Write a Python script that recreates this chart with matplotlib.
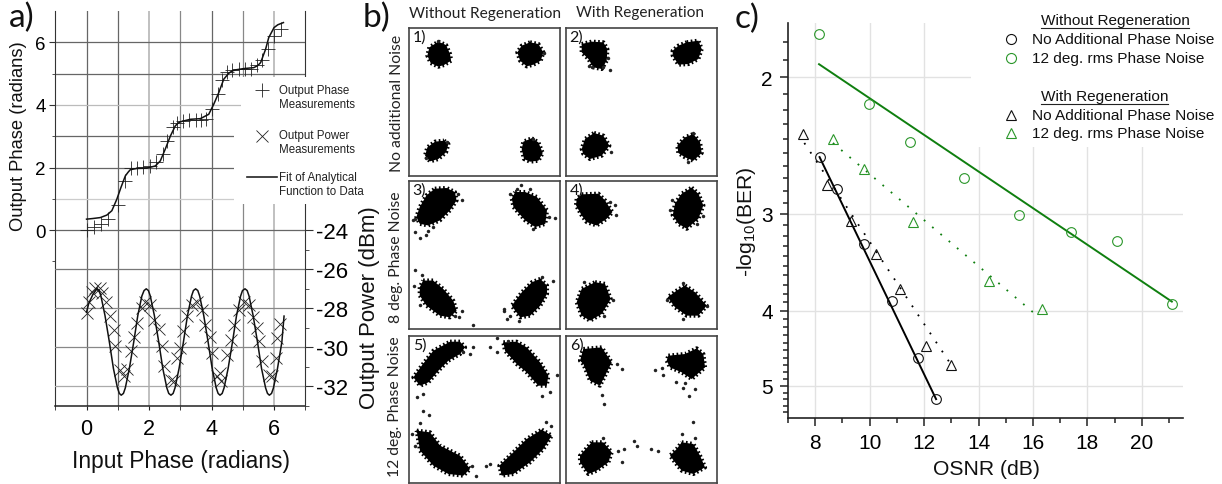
import matplotlib
matplotlib.use("Agg")
import matplotlib.pyplot as plt
from matplotlib.lines import Line2D
from matplotlib.patches import Polygon, Rectangle
from matplotlib.ticker import FixedLocator, NullFormatter
from matplotlib.transforms import Affine2D

W, H = 1222, 485
plt.rcParams['font.family'] = ['Liberation Sans', 'DejaVu Sans']
plt.rcParams['mathtext.default'] = 'regular'
CAL = ['Lato', 'DejaVu Sans']

# ---------- panel a data ----------
phase_in = [0, .23, .45, .68, 1.0, 1.22, 1.41, 1.6, 1.82, 2.03, 2.21, 2.45, 2.58, 2.76, 2.9, 3.09, 3.27, 3.49, 3.65,
            3.81, 4.02, 4.2, 4.34, 4.5, 4.66, 4.87, 5.06, 5.26, 5.47, 5.61, 5.8, 6.0, 6.22]
phase_out = [0, .11, .19, .37, .81, 1.58, 1.98, 2.0, 2.03, 2.06, 2.17, 2.43, 2.86, 3.28, 3.42, 3.49, 3.51, 3.52, 3.52,
             3.55, 3.86, 4.34, 4.78, 5.05, 5.12, 5.14, 5.16, 5.16, 5.29, 5.42, 5.8, 6.2, 6.42]
phase_fit_x = [0, .2, .44, .65, .81, .97, 1.10, 1.24, 1.33, 1.40, 1.61, 1.93, 2.20, 2.36, 2.52, 2.68, 2.84, 2.92, 3.0,
               3.32, 3.64, 3.91, 4.07, 4.23, 4.39, 4.55, 4.65, 4.77, 5.03, 5.35, 5.47, 5.57, 5.73, 5.83, 6.0, 6.12, 6.3]
phase_fit_y = [.35, .37, .40, .48, .62, .99, 1.36, 1.73, 1.85, 1.93, 1.97, 1.98, 2.05, 2.21, 2.59, 3.0, 3.33, 3.41, 3.46,
               3.54, 3.56, 3.7, 4.02, 4.39, 4.82, 5.01, 5.08, 5.12, 5.16, 5.19, 5.25, 5.35, 5.78, 6.15, 6.47, 6.56, 6.63]
power_in = [0, .07, .17, .28, .42, .49, .63, .76, .87, .92, 1.08, 1.19, 1.29, 1.42, 1.53, 1.61, 1.77, 1.88, 2.04, 2.17,
            2.31, 2.42, 2.49, 2.70, 2.81, 2.90, 3.0, 3.09, 3.22, 3.38, 3.54, 3.70, 3.80, 3.94, 4.02, 4.16, 4.26, 4.31,
            4.50, 4.61, 4.71, 4.87, 5.03, 5.19, 5.33, 5.46, 5.51, 5.62, 5.83, 5.94, 6.05, 6.10, 6.19]
power_out = [-28.26, -27.66, -27.15, -26.98, -26.98, -27.23, -27.66, -28.39, -29.11, -29.92, -31.15, -31.46, -31.11,
             -30.21, -29.48, -28.77, -28.0, -27.66, -27.83, -28.6, -29.07, -29.96, -30.94, -31.66, -31.74, -30.55,
             -30.04, -29.19, -28.39, -27.83, -27.66, -28.09, -28.85, -29.45, -30.3, -31.46, -31.32, -31.74, -30.38,
             -29.62, -28.85, -28.09, -27.66, -27.83, -28.46, -29.02, -29.7, -30.72, -31.4, -31.49, -30.55, -29.53, -28.82]
power_fit_x = [0, .07, .2, .33, .40, .46, .59, .73, .86, .99, 1.05, 1.11, 1.18, 1.24, 1.37, 1.51, 1.64, 1.77, 1.84, 1.91,
               1.98, 2.04, 2.17, 2.31, 2.44, 2.57, 2.63, 2.70, 2.77, 2.83, 2.96, 3.10, 3.23, 3.36, 3.42, 3.49,
               3.56, 3.62, 3.75, 3.89, 4.02, 4.15, 4.21, 4.27, 4.34, 4.40, 4.53, 4.67, 4.80, 4.93, 4.99, 5.07,
               5.14, 5.20, 5.33, 5.47, 5.60, 5.73, 5.79, 5.85, 5.92, 5.98, 6.11, 6.25, 6.32]
power_fit_y = [-28.2, -27.75, -27.3, -27.0, -27.09, -27.37, -28.37, -29.73, -31.09, -32.09, -32.37, -32.46,
               -32.37, -32.09, -31.09, -29.73, -28.37, -27.37, -27.09, -27.0,
               -27.09, -27.37, -28.37, -29.73, -31.09, -32.09, -32.37, -32.46,
               -32.37, -32.09, -31.09, -29.73, -28.37, -27.37, -27.09, -27.0,
               -27.09, -27.37, -28.37, -29.73, -31.09, -32.09, -32.37, -32.46,
               -32.37, -32.09, -31.09, -29.73, -28.37, -27.37, -27.09, -27.0,
               -27.09, -27.37, -28.37, -29.73, -31.09, -32.09, -32.37, -32.46,
               -32.37, -32.09, -31.09, -29.73, -28.4]

# ---------- panel b data: cluster outlines and stray symbols, in picture units ----------
p1_clusters = [[(205, 128), (228, 138), (240, 165), (243, 185), (222, 198), (205, 203), (182, 192), (172, 170), (178, 145)],
               [(480, 130), (505, 135), (520, 160), (512, 185), (490, 197), (470, 202), (450, 185), (442, 160), (455, 140)],
               [(222, 425), (235, 435), (228, 460), (205, 480), (180, 487), (165, 470), (172, 445), (195, 428)],
               [(485, 418), (505, 430), (518, 462), (505, 485), (480, 488), (462, 480), (455, 450), (460, 428)]]
p1_stray = [(205, 126), (522, 162), (490, 419), (232, 430), (168, 478)]
p2_clusters = [[(635, 135), (665, 128), (700, 130), (712, 150), (710, 185), (695, 210), (670, 205), (655, 180), (635, 160)],
               [(950, 130), (985, 125), (995, 150), (985, 180), (955, 195), (925, 197), (908, 170), (908, 155), (925, 140)],
               [(672, 402), (700, 410), (718, 440), (695, 470), (660, 480), (640, 465), (635, 450), (645, 420)],
               [(970, 405), (990, 430), (995, 462), (970, 485), (945, 475), (925, 462), (922, 440), (945, 415)]]
p2_stray = [(720, 212), (700, 205), (658, 200), (715, 178), (665, 205), (722, 458), (970, 402), (955, 490)]
p3_clusters = [[(105, 45), (140, 43), (165, 55), (170, 80), (150, 110), (120, 140), (85, 155), (60, 150), (50, 130), (60, 100), (80, 65)],
               [(345, 55), (375, 55), (410, 70), (440, 110), (435, 150), (405, 160), (375, 140), (340, 100), (335, 75)],
               [(70, 320), (100, 320), (130, 345), (160, 380), (170, 410), (150, 430), (120, 425), (80, 395), (60, 365), (60, 340)],
               [(420, 315), (440, 335), (440, 360), (420, 395), (390, 425), (360, 430), (345, 410), (335, 395), (365, 355), (395, 325)]]
p3_stray = [(47, 175), (61, 192), (78, 185), (45, 137), (185, 80), (175, 62), (40, 140), (85, 172), (100, 160),
            (362, 35), (388, 45), (330, 62), (463, 133), (397, 165), (350, 47), (445, 130),
            (47, 287), (68, 303), (43, 335), (62, 392), (186, 410), (178, 430), (220, 452), (165, 425),
            (458, 320), (425, 308), (312, 405), (312, 412), (320, 435), (357, 440), (330, 425)]
p4_clusters = [[(545, 62), (595, 60), (615, 80), (637, 115), (620, 135), (590, 155), (560, 145), (545, 125), (528, 95), (530, 75)],
               [(875, 42), (895, 60), (910, 95), (895, 135), (860, 165), (835, 150), (818, 125), (825, 90), (845, 60)],
               [(585, 325), (615, 330), (632, 375), (605, 420), (570, 440), (545, 425), (530, 385), (545, 345)],
               [(855, 335), (885, 355), (920, 395), (895, 425), (860, 425), (825, 400), (803, 370), (830, 350)]]
p4_stray = [(645, 95), (630, 85), (648, 125), (553, 325), (613, 425), (640, 377), (815, 80), (810, 110), (910, 128),
            (890, 150), (850, 328), (848, 435), (922, 395), (800, 378)]
p5_clusters = [[(240, 308), (270, 308), (285, 325), (270, 345), (235, 365), (205, 395), (175, 430), (150, 440), (130, 415), (155, 380), (190, 335)],
               [(400, 310), (440, 308), (470, 325), (510, 370), (535, 410), (530, 440), (505, 440), (470, 400), (440, 375), (405, 335)],
               [(140, 575), (180, 580), (210, 620), (270, 650), (300, 690), (280, 710), (235, 705), (190, 680), (150, 635)],
               [(515, 572), (545, 590), (520, 630), (480, 670), (430, 705), (395, 710), (388, 680), (430, 640), (470, 600)]]
p5_stray = [(310, 325), (300, 345), (280, 340), (382, 297), (360, 325), (380, 340), (415, 305), (140, 475), (160, 465),
            (515, 470), (540, 460), (560, 408), (158, 516), (178, 528), (125, 585), (150, 552), (528, 548), (542, 562),
            (348, 680), (360, 675), (318, 712), (135, 620), (305, 680)]
p6_clusters = [[(640, 330), (695, 325), (725, 370), (710, 400), (690, 440), (660, 425), (640, 375), (630, 365)],
               [(895, 350), (945, 345), (980, 328), (1000, 345), (1005, 385), (965, 420), (935, 400), (900, 385), (890, 365)],
               [(665, 610), (700, 610), (725, 640), (715, 670), (680, 695), (655, 705), (630, 670), (630, 650)],
               [(935, 610), (970, 615), (990, 650), (1005, 685), (970, 705), (935, 695), (915, 670), (900, 650), (920, 630)]]
p6_stray = [(755, 390), (740, 375), (695, 468), (703, 495), (855, 393), (875, 388), (880, 408), (918, 430), (945, 432),
            (975, 450), (957, 470), (938, 447), (970, 550), (793, 607), (800, 622), (843, 630), (865, 635), (762, 630),
            (755, 668), (745, 635), (937, 585), (700, 598), (975, 598)]
panel_names = ['1)', '2)', '3)', '4)', '5)', '6)']

# ---------- panel c data ----------
nr_wo_osnr = [8.16, 8.80, 9.80, 10.82, 11.78, 12.44]
nr_wo_ber = [2.534, 2.783, 3.284, 3.885, 4.60, 5.20]
pn_wo_osnr = [8.14, 9.96, 11.48, 13.45, 15.5, 17.4, 19.07, 21.1]
pn_wo_ber = [1.76, 2.164, 2.424, 2.697, 3.006, 3.164, 3.253, 3.926]
nr_w_osnr = [7.55, 8.44, 9.31, 10.23, 11.1, 12.07, 13.0]
nr_w_ber = [2.365, 2.756, 3.066, 3.381, 3.749, 4.438, 4.703]
pn_w_osnr = [8.65, 9.80, 11.61, 14.37, 16.33]
pn_w_ber = [2.40, 2.629, 3.072, 3.661, 3.982]
fit_nr_wo = ([8.16, 12.44], [2.534, 5.20])
fit_pn_wo = ([8.14, 21.1], [1.923, 3.892])
fit_nr_w = ([7.6, 13.0], [2.43, 4.70])
fit_pn_w = ([8.65, 16.12], [2.43, 4.05])

GREEN = '#0f7f0f'
GREEN_M = '#2a962a'

fig = plt.figure(figsize=(W / 100, H / 100), dpi=100, facecolor='white')
PX = Affine2D().scale(1, -1).translate(0, H)


def px_axes(left, top, right, bottom):
    return fig.add_axes([left / W, 1 - bottom / H, (right - left) / W, (bottom - top) / H])


def T(x, y, s, size, ha='left', va='center', **kw):
    return fig.text(x / W, 1 - y / H, s, fontsize=size, ha=ha, va=va, **kw)


# ---------- panel a ----------
ax = px_axes(55.3, 12, 305.3, 406.7)
ax.set_xlim(-1, 7)
ax.set_ylim(-5.61, 7)
ax.patch.set_alpha(0)
for s in ['top', 'right']:
    ax.spines[s].set_visible(False)
ax.spines['left'].set_color('#333')
ax.spines['bottom'].set_color('#222')
ax.spines['bottom'].set_linewidth(1.1)
ax.set_xticks([0, 2, 4, 6])
ax.set_xticks([-1, 1, 3, 5, 7], minor=True)
ax.set_yticks([0, 2, 4, 6])
ax.set_yticks([-1, 1, 3, 5], minor=True)
ax.yaxis.set_minor_formatter(NullFormatter())
ax.tick_params(axis='y', which='major', length=4, labelsize=13.5, pad=3, color='#333')
ax.tick_params(axis='y', which='minor', length=2, color='#333')
ax.tick_params(axis='x', which='both', length=3, labelsize=15.5, pad=6, color='#222')
for x, c, lw in zip([0, 1, 2, 3, 4, 5, 6],
                    ['#666', '#666', '#bbb', '#888', '#666', '#888', '#bbb'],
                    [.9, .9, 1.3, .9, .9, .9, 1.3]):
    ax.axvline(x, color=c, lw=lw, zorder=1)
for y, c in zip([6, 5, 4, 3, 2, 1, 0], ['#666', '#666', '#bbb', '#666', '#666', '#ccc', '#666']):
    ax.axhline(y, color=c, lw=.9, zorder=1)
ax.plot(phase_in, phase_out, ls='none', marker='+', ms=9.5, mew=.6, color='#222', zorder=3)
ax.plot(phase_fit_x, phase_fit_y, color='#111', lw=1.1, zorder=4)

ax2 = ax.twinx()
ax2.set_zorder(ax.get_zorder() + 1)
ax2.patch.set_alpha(0)
ax2.set_ylim(-33, -12.74)
for s in ['top', 'left', 'bottom']:
    ax2.spines[s].set_visible(False)
ax2.spines['right'].set_color('#333')
ax2.set_yticks([-24, -26, -28, -30, -32])
ax2.set_yticks([-25, -27, -29, -31, -33], minor=True)
ax2.yaxis.set_minor_formatter(NullFormatter())
ax2.set_yticklabels(['-24', '-26', '-28', '-30', '-32'])
ax2.tick_params(axis='y', which='major', length=6, labelsize=16, pad=2, color='#333')
ax2.tick_params(axis='y', which='minor', length=3, color='#333')
for y, c in zip([-26, -28, -30, -32], ['#777', '#888', '#888', '#aaa']):
    ax2.axhline(y, color=c, lw=.9, zorder=1)
for (x0, y0, x1, y1) in [(241, 78, 307, 111), (234, 110, 307, 205)]:
    ax2.add_patch(Rectangle((x0, y0), x1 - x0, y1 - y0, transform=PX, fc='white', ec='none', zorder=3, clip_on=False))
ax2.plot(power_in, power_out, ls='none', marker='x', ms=8.6, mew=.6, color='#222', zorder=4)
ax2.plot(power_fit_x, power_fit_y, color='#111', lw=1.1, zorder=5)

fig.add_artist(Line2D([262], [91], transform=PX, marker='+', ms=10, mew=.6, color='#222'))
fig.add_artist(Line2D([262], [137], transform=PX, marker='x', ms=9, mew=.6, color='#222'))
fig.add_artist(Line2D([246.5, 276.5], [178, 178], transform=PX, color='#222', lw=1.2))
for y, s in [(91, 'Output Phase'), (105, 'Measurements'), (136, 'Output Power'), (150, 'Measurements'),
             (178, 'Fit of Analytical'), (192, 'Function to Data')]:
    T(279, y, s, 8.3, color='#222')

T(19, 136, 'Output Phase (radians)', 13.25, ha='center', rotation=90, color='#111')
T(370, 308, 'Output Power (dBm)', 16, ha='center', rotation=90, color='#111')
T(181, 462, 'Input Phase (radians)', 16.4, ha='center', color='#111')
T(9, 18, 'a)', 24, family=CAL, color='#111')
T(363, 18, 'b)', 24, family=CAL, color='#111')
T(735, 19, 'c)', 24, family=CAL, color='#111')

# ---------- panel b ----------
col_x = [(408.7, 559.7), (565.7, 716.7)]
row_y = [(29, 177), (182, 330), (336.7, 484.3)]
extent = [((116, 569), (531, 87)), ((587, 1040), (531, 87)),
          ((27, 478), (465, 22)), ((497, 950), (465, 22)),
          ((116, 569), (733, 290)), ((587, 1040), (733, 290))]
clusters = [p1_clusters, p2_clusters, p3_clusters, p4_clusters, p5_clusters, p6_clusters]
strays = [p1_stray, p2_stray, p3_stray, p4_stray, p5_stray, p6_stray]
for i in range(6):
    (l, r) = col_x[i % 2]
    (t, b) = row_y[i // 2]
    a = px_axes(l, t, r, b)
    a.set_xlim(*extent[i][0])
    a.set_ylim(*extent[i][1])
    a.set_xticks([])
    a.set_yticks([])
    for s in a.spines.values():
        s.set_color('#444')
        s.set_linewidth(1.2)
    for poly in clusters[i]:
        a.add_patch(Polygon(poly, closed=True, fc='black', ec='black', lw=3.0, ls=(0, (.4, .6)), joinstyle='round'))
    a.plot([p[0] for p in strays[i]], [p[1] for p in strays[i]], ls='none', marker='o', ms=2.5, mew=0, color='#222')
    T(l + 4, t + 9, panel_names[i], 11.5, family=CAL, color='#111')

T(485, 14, 'Without Regeneration', 11.2, ha='center', family=CAL, color='#222')
T(640, 12.5, 'With Regeneration', 11.1, ha='center', family=CAL, color='#222')
T(397, 103, 'No additional Noise', 11.3, ha='center', rotation=90, family=CAL, color='#222')
T(396, 257, '8 deg. Phase Noise', 11.3, ha='center', rotation=90, family=CAL, color='#222')
T(395, 407, '12 deg. Phase Noise', 11.3, ha='center', rotation=90, family=CAL, color='#222')

# ---------- panel c ----------
c = px_axes(788, 23.7, 1182.7, 419)
c.set_yscale('log')
c.set_xlim(7, 21.5)
c.set_ylim(5.5, 1.7)
c.set_axisbelow(True)
for s in ['top', 'right']:
    c.spines[s].set_visible(False)
for s in ['left', 'bottom']:
    c.spines[s].set_linewidth(1.2)
    c.spines[s].set_color('#222')
c.xaxis.set_major_locator(FixedLocator([8, 10, 12, 14, 16, 18, 20]))
c.xaxis.set_minor_locator(FixedLocator([7, 9, 11, 13, 15, 17, 19, 21]))
c.yaxis.set_major_locator(FixedLocator([2, 3, 4, 5]))
c.yaxis.set_minor_locator(FixedLocator([1.8, 1.9, 2.1, 2.2, 2.3, 2.4, 2.5, 2.6, 2.7, 2.8, 2.9, 3.1, 3.2, 3.3, 3.4, 3.5,
                                        3.6, 3.7, 3.8, 3.9, 4.1, 4.2, 4.3, 4.4, 4.5, 4.6, 4.7, 4.8, 4.9, 5.1, 5.2, 5.3, 5.4]))
c.set_yticklabels(['2', '3', '4', '5'])
c.yaxis.set_minor_formatter(NullFormatter())
c.grid(True, which='major', color='#e2e2e2', lw=1)
c.tick_params(axis='both', which='major', length=6, width=1.1, labelsize=15, color='#222', pad=5)
c.tick_params(axis='both', which='minor', length=3.5, width=1.1, color='#222')
c.add_patch(Rectangle((970.7, 0), 260, 148, transform=PX, fc='white', ec='none', zorder=1, clip_on=True))

c.plot(*fit_nr_wo, color='black', lw=1.4, zorder=3)
c.plot(*fit_pn_wo, color=GREEN, lw=1.4, zorder=3)
c.plot(*fit_nr_w, color='black', lw=1.3, ls=(0, (1, 5)), zorder=3)
c.plot(*fit_pn_w, color=GREEN, lw=1.3, ls=(0, (1, 5)), zorder=3)
c.plot(nr_wo_osnr, nr_wo_ber, ls='none', marker='o', ms=7, mfc='none', mew=.8, color='#111', zorder=4)
c.plot(pn_wo_osnr, pn_wo_ber, ls='none', marker='o', ms=7, mfc='none', mew=.8, color=GREEN_M, zorder=4)
c.plot(nr_w_osnr, nr_w_ber, ls='none', marker='^', ms=7.5, mfc='none', mew=.8, color='#111', zorder=4)
c.plot(pn_w_osnr, pn_w_ber, ls='none', marker='^', ms=7.5, mfc='none', mew=.8, color=GREEN_M, zorder=4)

T(986, 470, 'OSNR (dB)', 15.2, ha='center', color='#111')
T(747, 222, '-log$_{10}$(BER)', 15.2, ha='center', rotation=90, color='#111')

legend_rows = [(40, 'o', '#111', 'No Additional Phase Noise'), (59, 'o', GREEN_M, '12 deg. rms Phase Noise'),
               (116, '^', '#111', 'No Additional Phase Noise'), (134, '^', GREEN_M, '12 deg. rms Phase Noise')]
for y, m, col, s in legend_rows:
    fig.add_artist(Line2D([1011], [y], transform=PX, marker=m, ms=7.2, mfc='none', mew=.8, color=col))
    T(1032, y, s, 11.1, color='#111')
for y, s, x1 in [(21, 'Without Regeneration', 1188.7), (97, 'With Regeneration', 1167.5)]:
    T(1040.7, y, s, 11.1, color='#111')
    fig.add_artist(Line2D([1040.7, x1], [y + 7.5, y + 7.5], transform=PX, color='#222', lw=.8))

fig.savefig('out.png', dpi=100)
